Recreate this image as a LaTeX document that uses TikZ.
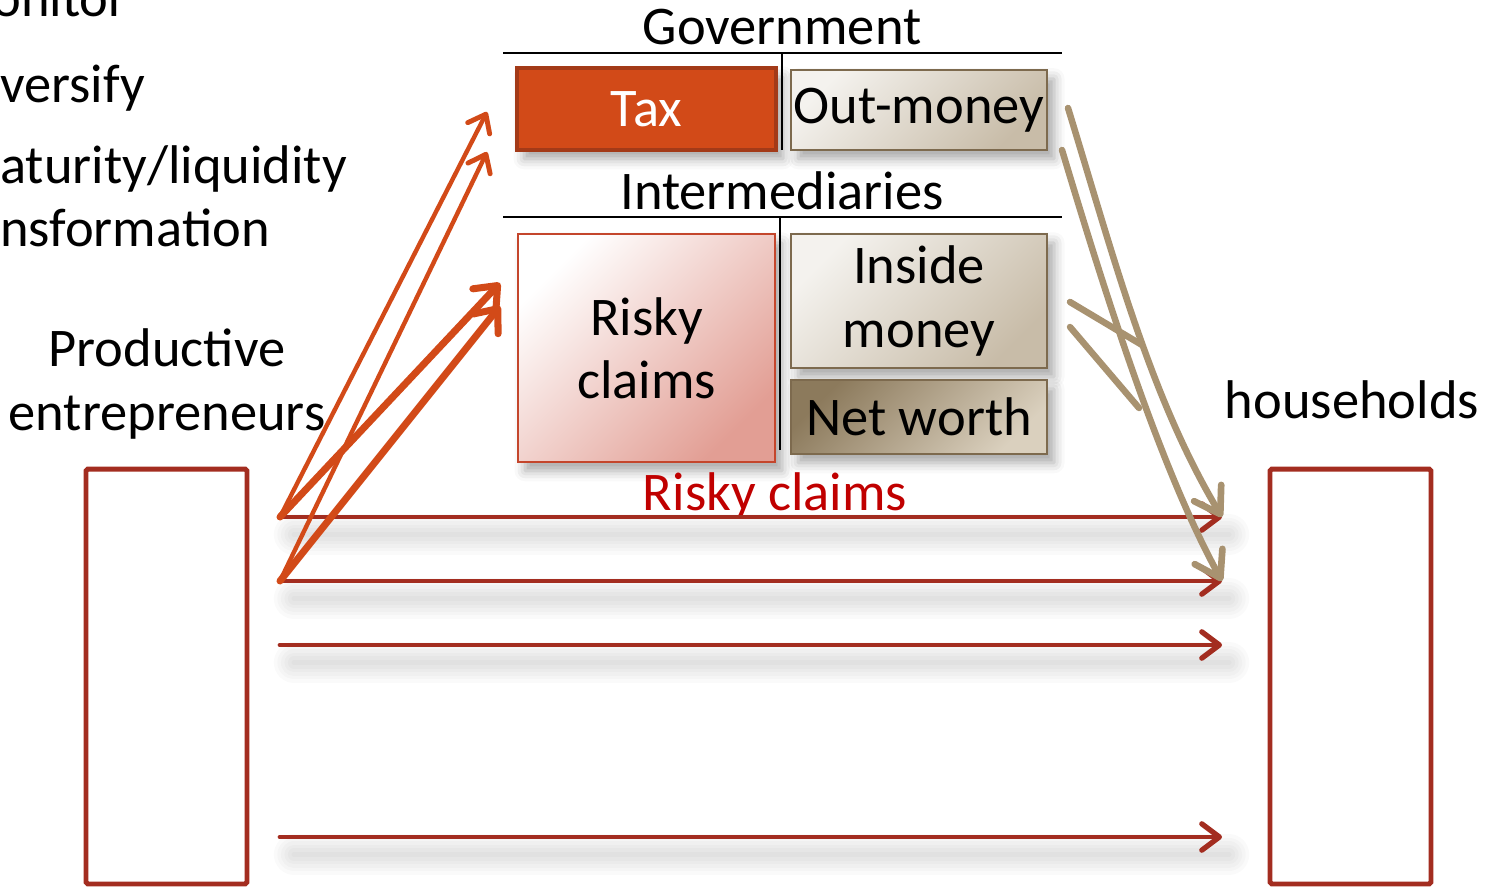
\documentclass[tikz,border=0pt]{standalone}
\usepackage{fontspec}
\setmainfont{Carlito}
\usetikzlibrary{arrows.meta, shadows.blur}
\usepackage{xcolor}
\definecolor{taxorange}{RGB}{210,74,24}
\definecolor{taxedge}{RGB}{163,58,24}
\definecolor{claimred}{RGB}{163,45,32}
\definecolor{claimtext}{RGB}{192,0,0}
\definecolor{riskyedge}{RGB}{196,70,44}
\definecolor{riskypink}{RGB}{226,158,148}
\definecolor{moneytan}{RGB}{168,146,112}
\definecolor{moneyedge}{RGB}{125,106,78}
\definecolor{moneylight}{RGB}{244,242,238}
\definecolor{moneydark}{RGB}{200,188,168}
\definecolor{worthdark}{RGB}{140,122,92}
\definecolor{worthlight}{RGB}{218,208,190}

\begin{document}
\begin{tikzpicture}[
  x=0.02cm, y=-0.02cm,
  every node/.style={font=\fontsize{31}{36}\selectfont},
  softshadow/.style={blur shadow={shadow xshift=4pt, shadow yshift=-5pt, shadow blur radius=6pt, shadow opacity=35}},
  haze/.style={black, opacity=0.018, line cap=round},
  bal/.style={rectangle, draw=moneyedge, line width=1.2pt, inner sep=0pt, minimum width=5.12cm, align=center, softshadow},
  sector/.style={rectangle, draw=claimred, line width=2.8pt, rounded corners=1pt, fill=white, minimum width=3.22cm, minimum height=8.3cm},
  claim/.style={-{Straight Barb[length=10pt, width=15pt, line width'=3pt, round]}, claimred, line width=2.7pt, line cap=round},
  taxarrow/.style={-{Straight Barb[length=9pt, width=14pt, line width'=2.8pt, round]}, taxorange, line width=2.5pt, line cap=round},
  bigarrow/.style={-{Straight Barb[length=11pt, width=18pt, line width'=4pt, round]}, taxorange, line width=4pt, line cap=round},
  moneyline/.style={moneytan, line width=3.7pt, line cap=round},
  moneyarrow/.style={moneyline, -{Straight Barb[length=14pt, width=18pt, line width'=3.8pt, round]}}
]
\useasboundingbox (0,0) rectangle (1493,888);
\clip (0,0) rectangle (1493,888);

% bullet text cut at the left edge
\node[anchor=base west, inner sep=0pt] (bul1) at (-8,17) {onitor};
\node[anchor=base west, inner sep=0pt] (bul2) at (0,103) {versify};
\node[anchor=base west, inner sep=0pt] (bul3) at (0,184) {aturity/liquidity};
\node[anchor=base west, inner sep=0pt] (bul4) at (0,247) {nsformation};

% sectors
\node[sector] (firms) at (166.5,676.5) {};
\node[sector] (hh) at (1350.5,676.5) {};
\node[align=center] (firmslbl) at (167,384) {Productive\\entrepreneurs};
\node[anchor=base] (hhlbl) at (1352,418) {households};

% government balance sheet
\node[anchor=base] (govlbl) at (782,45) {Government};
\draw[line width=0.8pt] (503,53) -- (1062,53);
\draw[line width=0.8pt] (782,53) -- (782,150);
\node[bal, draw=taxedge, line width=2pt, fill=taxorange, text=white, minimum width=5.18cm, minimum height=1.64cm] (tax) at (646.5,109) {Tax};
\node[bal, top color=moneylight, bottom color=moneydark, shading angle=45, minimum height=1.6cm] (outmoney) at (919,110) {Out-money};

% intermediaries balance sheet
\node[anchor=base] (intlbl) at (782,210) {Intermediaries};
\draw[line width=0.8pt] (503,217) -- (1062,217);
\draw[line width=0.8pt] (780,217) -- (780,450);
\node[bal, draw=riskyedge, top color=white, bottom color=riskypink, shading angle=45, minimum width=5.14cm, minimum height=4.56cm] (risky) at (646.5,348) {Risky\\claims};
\node[bal, top color=moneylight, bottom color=moneydark, shading angle=45, minimum height=2.68cm] (inside) at (919,301) {Inside\\money};
\node[bal, top color=worthdark, bottom color=worthlight, shading angle=45, minimum height=1.48cm] (networth) at (919,417) {Net worth};

% arrow ends
\coordinate (e1) at (280,517);
\coordinate (e2) at (280,581);
\coordinate (e3) at (280,645);
\coordinate (e4) at (280,837);
\coordinate (h1) at (1222,517);
\coordinate (h2) at (1222,581);
\coordinate (h3) at (1222,645);
\coordinate (h4) at (1222,837);
\coordinate (g1) at (487,112);
\coordinate (g2) at (487,152);
\coordinate (r1) at (500,283);
\coordinate (r2) at (500,306);
\coordinate (m1) at (1068,108);
\coordinate (m2) at (1062,150);
\coordinate (i1) at (1070,302);
\coordinate (i2) at (1070,327);
\coordinate (j1) at (1142,345);
\coordinate (j2) at (1139,408);

% soft shadows under the claim arrows
\foreach \a/\b in {e1/h1, e2/h2, e3/h3, e4/h4}
  \foreach \w in {3,7,...,23}
    \draw[haze, line width=\w pt] ([xshift=8pt, yshift=-10pt]\a) -- ([xshift=4pt, yshift=-10pt]\b);

% claims to households
\node[text=claimtext, anchor=base] (claimlbl) at (775,510) {Risky claims};
\draw[claim] (e1) -- (h1);
\draw[claim] (e2) -- (h2);
\draw[claim] (e3) -- (h3);
\draw[claim] (e4) -- (h4);

% entrepreneurs pay tax and issue claims
\draw[taxarrow] (e1) -- (g1);
\draw[taxarrow] (e2) -- (g2);
\draw[bigarrow] (e1) -- (r1);
\draw[bigarrow] (e2) -- (r2);

% money held by households
\draw[moneyarrow] (m1) .. controls (1114,258) and (1150,397) .. (h1);
\draw[moneyarrow] (m2) .. controls (1107,300) and (1161,470) .. (h2);
\draw[moneyline] (i1) -- (j1);
\draw[moneyline] (i2) -- (j2);

\end{tikzpicture}
\end{document}
